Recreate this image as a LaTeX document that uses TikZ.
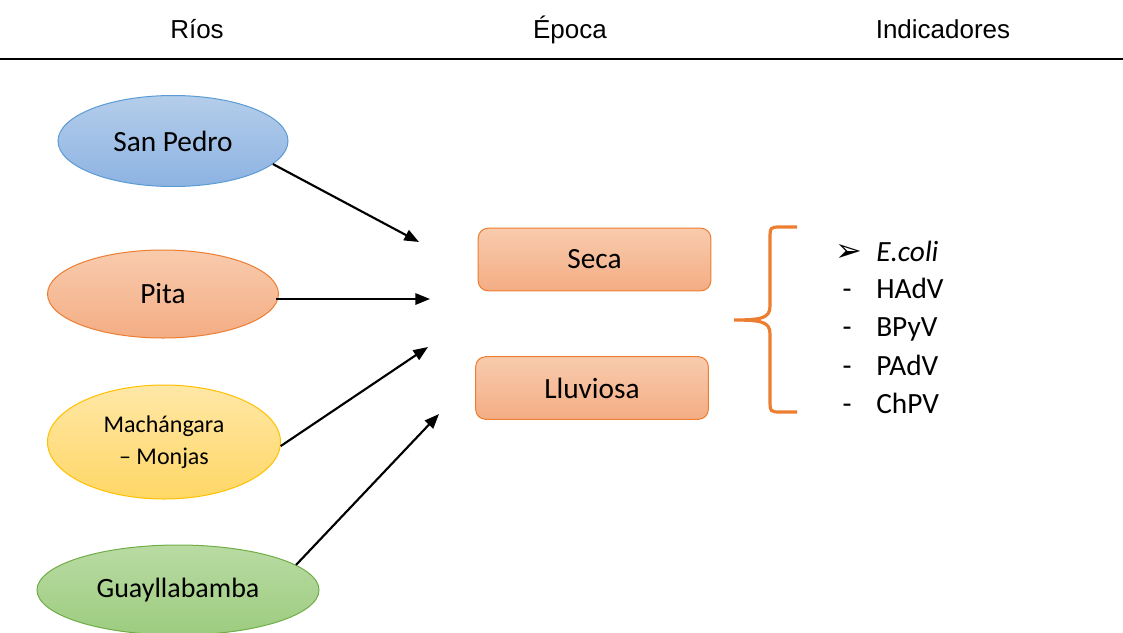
\documentclass[tikz,border=0pt]{standalone}
\usepackage{fontspec}
\setmainfont{Carlito}
\newfontfamily\hdrfont{Liberation Sans}
\newfontfamily\symfont{DejaVu Sans}
\usetikzlibrary{arrows.meta,shapes.geometric}
\definecolor{bluetop}{HTML}{B4CDEA}
\definecolor{bluebot}{HTML}{8DB3E2}
\definecolor{blueline}{HTML}{5B9BD5}
\definecolor{orgtop}{HTML}{F8CBAD}
\definecolor{orgbot}{HTML}{F4AD84}
\definecolor{orgline}{HTML}{ED7D31}
\definecolor{yeltop}{HTML}{FFE7A6}
\definecolor{yelbot}{HTML}{FFD766}
\definecolor{yelline}{HTML}{FFC000}
\definecolor{grntop}{HTML}{B9DBA3}
\definecolor{grnbot}{HTML}{9DCC7F}
\definecolor{grnline}{HTML}{70AD47}
\tikzset{
  river/.style={ellipse, inner sep=0pt, line width=0.75pt, font=\fontsize{22}{26}\selectfont},
  season/.style={rectangle, rounded corners=7.5pt, inner sep=0pt, line width=0.75pt,
    draw=orgline, top color=orgtop, bottom color=orgbot,
    minimum width=174.5pt, minimum height=47pt, font=\fontsize{22}{26}\selectfont},
  hdr/.style={font=\hdrfont\fontsize{19.5}{23}\selectfont, inner sep=0pt, anchor=base},
  item/.style={anchor=base west, inner sep=0pt, font=\fontsize{22}{26}\selectfont},
  bullet/.style={anchor=base, inner sep=0pt, font=\fontsize{22}{26}\selectfont},
  arr/.style={line width=1.6pt, -{Triangle[length=11pt,width=8.5pt]}},
}
\begin{document}
\begin{tikzpicture}[x=0.75pt,y=-0.75pt]
\useasboundingbox (0,0) rectangle (1123,632);
% header
\node[hdr] (h1) at (197,38) {Ríos};
\node[hdr] (h2) at (570,38) {Época};
\node[hdr] (h3) at (943,38) {Indicadores};
\coordinate (l1) at (0,59);
\coordinate (l2) at (1123,59);
\draw[line width=1.5pt] (l1) -- (l2);
% rivers
\node[river, draw=blueline, top color=bluetop, bottom color=bluebot,
  minimum width=172.5pt, minimum height=68.25pt] (sp) at (173,141) {San Pedro};
\node[river, draw=orgline, top color=orgtop, bottom color=orgbot,
  minimum width=173.25pt, minimum height=66pt] (pita) at (163,294) {Pita};
\node[river, draw=yelline, top color=yeltop, bottom color=yelbot,
  minimum width=174.75pt, minimum height=85.5pt, align=center,
  font=\fontsize{18}{24}\selectfont] (mach) at (164,442) {Machángara\\– Monjas};
\node[river, draw=grnline, top color=grntop, bottom color=grnbot,
  minimum width=211.5pt, minimum height=67.5pt,
  font=\fontsize{21}{25}\selectfont] (guay) at (178,590) {Guayllabamba};
% seasons
\node[season] (seca) at (594.5,259.5) {Seca};
\node[season] (lluv) at (592,388) {Lluviosa};
% arrow tips
\coordinate (t1) at (419,242);
\coordinate (t2) at (430,299);
\coordinate (t3) at (428,347);
\coordinate (t4) at (439,414);
\coordinate (s2) at (276,299);
\draw[arr] (sp.-13) -- (t1);
\draw[arr] (s2) -- (t2);
\draw[arr] (mach.-2) -- (t3);
\draw[arr] (guay.12) -- (t4);
% brace
\coordinate (b1) at (797,227);
\coordinate (b2) at (734,320);
\coordinate (b3) at (797,412);
\draw[orgline, line width=2.4pt]
  (b1) -- (781,227) .. controls (770,227) .. (770,240) -- (770,306)
  .. controls (770,318) and (762,320) .. (b2)
  .. controls (762,320) and (770,322) .. (770,334) -- (770,399)
  .. controls (770,412) .. (781,412) -- (b3);
% indicators
\node[anchor=base, inner sep=0pt, font=\symfont\fontsize{24}{26}\selectfont] (m0) at (849,261) {➢};
\node[item] (i0) at (876,261) {\itshape E.coli};
\node[bullet] (m1) at (847,298) {-};
\node[item] (i1) at (876,298) {HAdV};
\node[bullet] (m2) at (847,336) {-};
\node[item] (i2) at (876,336) {BPyV};
\node[bullet] (m3) at (847,375) {-};
\node[item] (i3) at (876,375) {PAdV};
\node[bullet] (m4) at (847,413) {-};
\node[item] (i4) at (876,413) {ChPV};
\end{tikzpicture}
\end{document}
